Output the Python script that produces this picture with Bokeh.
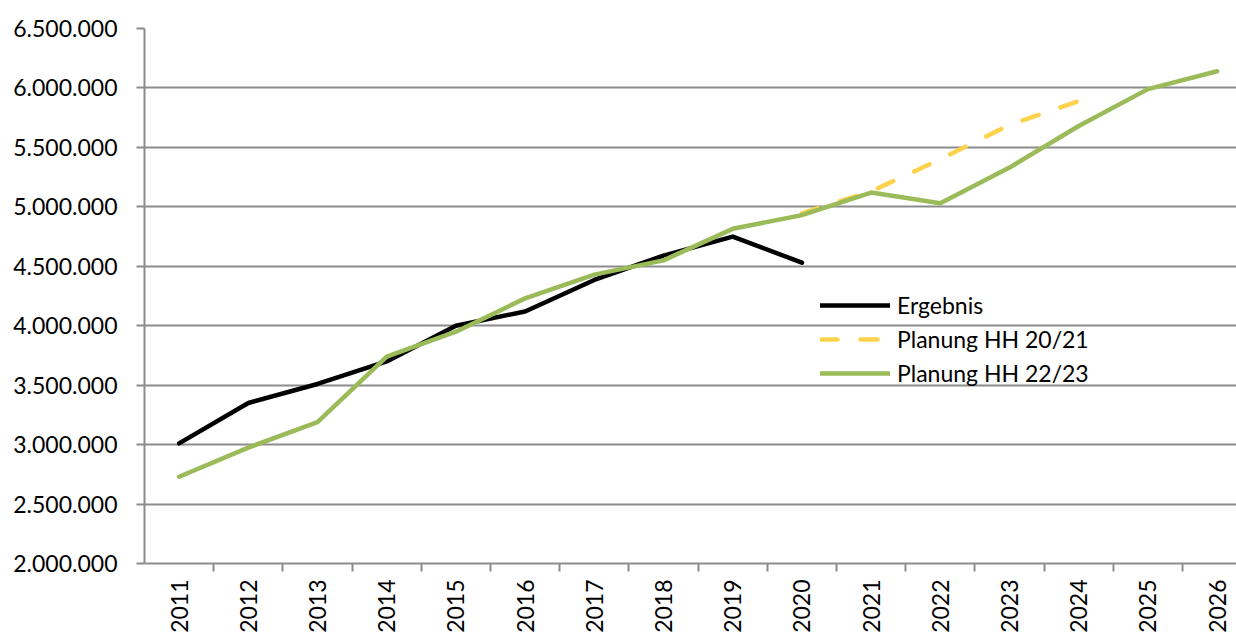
from bokeh.plotting import figure
from bokeh.models import (Range1d, FixedTicker, CustomJSTickFormatter, Legend,
                          LegendItem, ColumnDataSource)
from bokeh.embed import file_html
from bokeh.resources import INLINE
import math

NaN = float("nan")

years = [2011, 2012, 2013, 2014, 2015, 2016, 2017, 2018,
         2019, 2020, 2021, 2022, 2023, 2024, 2025, 2026]
year_labels = [str(y) for y in years]

ergebnis = [3010000, 3350000, 3510000, 3700000, 4000000, 4120000, 4385000, 4590000,
            4750000, 4530000, NaN, NaN, NaN, NaN, NaN, NaN]
planung_2021 = [NaN, NaN, NaN, NaN, NaN, NaN, NaN, NaN,
                NaN, 4945000, 5130000, 5400000, 5690000, 5890000, NaN, NaN]
planung_2223 = [2730000, 2975000, 3190000, 3740000, 3950000, 4230000, 4430000, 4550000,
                4815000, 4930000, 5120000, 5030000, 5330000, 5680000, 5990000, 6140000]

y_ticks = [2000000, 2500000, 3000000, 3500000, 4000000, 4500000,
           5000000, 5500000, 6000000, 6500000]

series_names = ["Ergebnis", "Planung HH 20/21", "Planung HH 22/23"]

FONT = "Lato"
GRID = "#8c8c8c"

src = ColumnDataSource(dict(x=years, e=ergebnis, p1=planung_2021, p2=planung_2223))

p = figure(width=1236, height=635, output_backend="svg", toolbar_location=None,
           x_range=Range1d(2010.5, 2026.28), y_range=Range1d(2000000, 6500000),
           min_border_left=144, min_border_right=0, min_border_top=28,
           min_border_bottom=69)
p.outline_line_color = None
p.background_fill_color = "white"
p.border_fill_color = "white"

# x axis: tick marks between categories, labels at category centres
p.xaxis.ticker = FixedTicker(ticks=years,
                             minor_ticks=[y + 0.5 for y in years[:-1]])
p.xaxis.major_label_overrides = {y: s for y, s in zip(years, year_labels)}
p.xaxis.major_label_orientation = math.pi / 2
p.xaxis.major_tick_out = 0
p.xaxis.major_tick_in = 0
p.xaxis.minor_tick_out = 8
p.xaxis.minor_tick_in = 0
p.xaxis.minor_tick_line_color = GRID
p.xaxis.minor_tick_line_width = 2
p.xaxis.major_label_standoff = 8
p.xaxis.axis_line_color = GRID
p.xaxis.axis_line_width = 2

p.yaxis.ticker = FixedTicker(ticks=y_ticks, minor_ticks=[])
p.yaxis.formatter = CustomJSTickFormatter(
    code='return Math.round(tick).toString().replace(/\\B(?=(\\d{3})+(?!\\d))/g, ".");')
p.yaxis.major_tick_out = 8
p.yaxis.major_tick_in = 0
p.yaxis.minor_tick_out = 0
p.yaxis.major_tick_line_color = GRID
p.yaxis.major_tick_line_width = 2
p.yaxis.major_label_standoff = 19
p.yaxis.axis_line_color = GRID
p.yaxis.axis_line_width = 2

for ax in (p.xaxis, p.yaxis):
    ax.major_label_text_font = FONT
    ax.major_label_text_font_size = "23px"
    ax.major_label_text_color = "#000000"

p.xgrid.grid_line_color = None
p.ygrid.grid_line_color = GRID
p.ygrid.grid_line_width = 2
p.ygrid.ticker = FixedTicker(ticks=y_ticks)

r1 = p.line("x", "e", source=src, line_color="#000000", line_width=4.5,
            line_join="round", line_cap="round")
r2 = p.line("x", "p1", source=src, line_color="#FFD24D", line_width=4.5,
            line_dash="17 23", line_join="round", line_cap="round")
r3 = p.line("x", "p2", source=src, line_color="#9BBB59", line_width=4.5,
            line_join="round", line_cap="round")

legend = Legend(items=[LegendItem(label=series_names[0], renderers=[r1]),
                       LegendItem(label=series_names[1], renderers=[r2]),
                       LegendItem(label=series_names[2], renderers=[r3])],
                location=(676, 173), orientation="vertical",
                background_fill_alpha=0, border_line_color=None,
                padding=0, margin=0, spacing=0,
                glyph_width=70, glyph_height=34, label_height=34,
                label_standoff=7, label_text_font=FONT,
                label_text_font_size="23px", label_text_color="#000000")
p.add_layout(legend, "center")

open("out.html", "w").write(file_html(p, INLINE))
